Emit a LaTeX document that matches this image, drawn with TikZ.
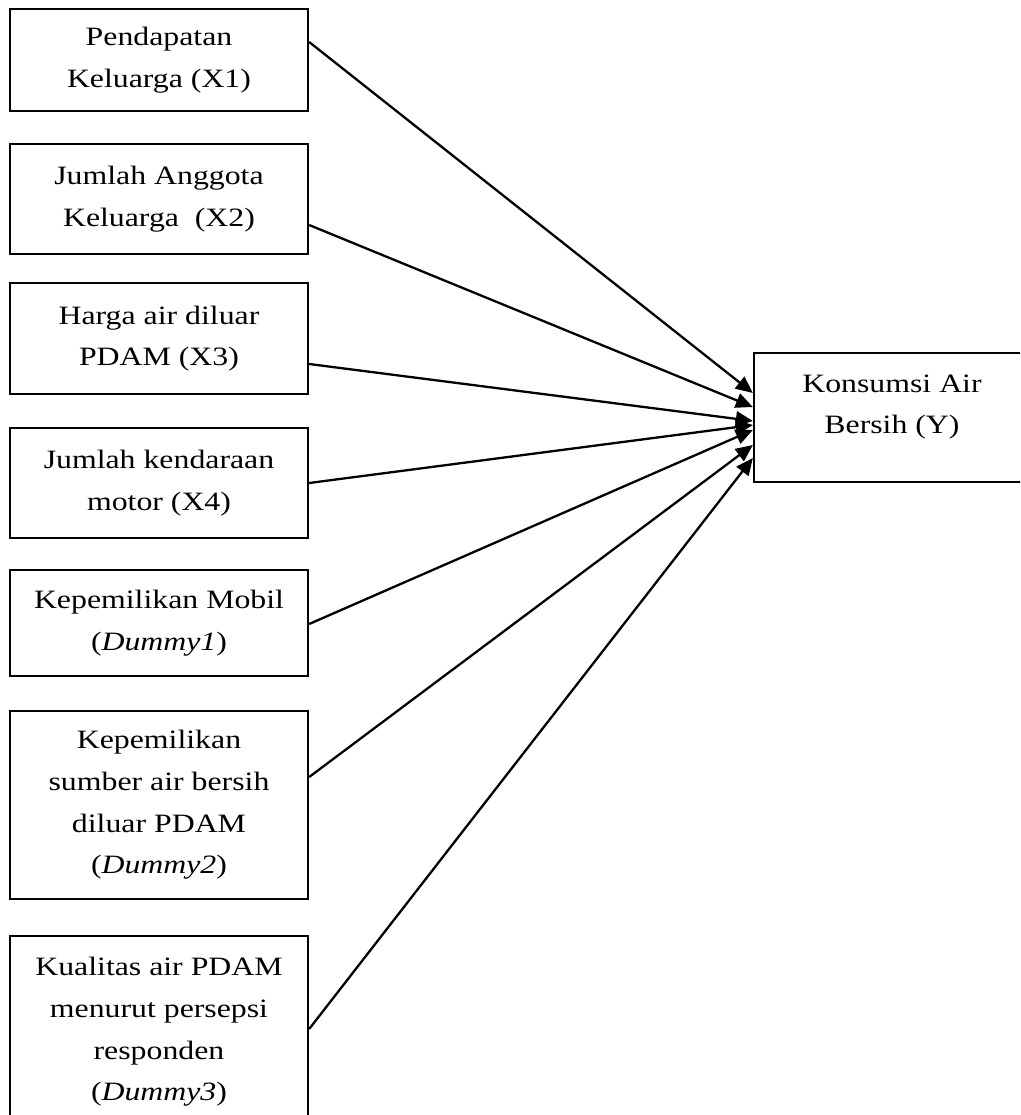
\documentclass[tikz,border=0pt]{standalone}
\usepackage{fontspec}
\setmainfont{Liberation Serif}[FakeStretch=1.2]
\usetikzlibrary{arrows.meta}
\begin{document}
\begin{tikzpicture}[x=1pt,y=-1pt,
 txt/.style={inner sep=0pt, align=center, font=\fontsize{26.5}{41.7}\selectfont},
 box/.style={txt, draw, line width=2.3pt, minimum width=298pt},
 arr/.style={line width=2.3pt, -{Triangle[length=17pt,width=15pt]}}]
\useasboundingbox (0,0) rectangle (1020,1115);
\clip (0,0) rectangle (1020,1115);
\node[box, minimum height=102pt] (x1) at (159,60) {Pendapatan\\ Keluarga (X1)};
\node[box, minimum height=110pt] (x2) at (159,199) {Jumlah Anggota\\ Keluarga~~(X2)};
\node[box, minimum height=111pt] (x3) at (159,338.5) {Harga air diluar\\ PDAM (X3)};
\node[box, minimum height=110pt] (x4) at (159,483) {Jumlah kendaraan\\ motor (X4)};
\node[box, minimum height=106pt] (d1) at (159,623) {Kepemilikan Mobil\\ (\textit{Dummy1})};
\node[box, minimum height=188pt] (d2) at (159,805) {Kepemilikan\\ sumber air bersih\\ diluar PDAM\\ (\textit{Dummy2})};
\node[box, minimum height=192pt] (d3) at (159,1032) {Kualitas air PDAM\\ menurut persepsi\\ responden\\ (\textit{Dummy3})};
\node[draw, line width=2.3pt, minimum width=276pt, minimum height=129pt] (y) at (892,417.5) {};
\node[txt] (ylab) at (892,407) {Konsumsi Air\\ Bersih (Y)};
\draw[arr] ([yshift=18pt]x1.east) -- ([yshift=24.5pt]y.west);
\draw[arr] ([yshift=-26pt]x2.east) -- ([yshift=10.5pt]y.west);
\draw[arr] ([yshift=-25.5pt]x3.east) -- ([yshift=-3.5pt]y.west);
\draw[arr] (x4.east) -- ([yshift=-7.5pt]y.west);
\draw[arr] ([yshift=-1pt]d1.east) -- ([yshift=-12.5pt]y.west);
\draw[arr] ([yshift=28pt]d2.east) -- ([yshift=-27.5pt]y.west);
\draw[arr] ([yshift=3pt]d3.east) -- ([yshift=-40.5pt]y.west);
\end{tikzpicture}
\end{document}
